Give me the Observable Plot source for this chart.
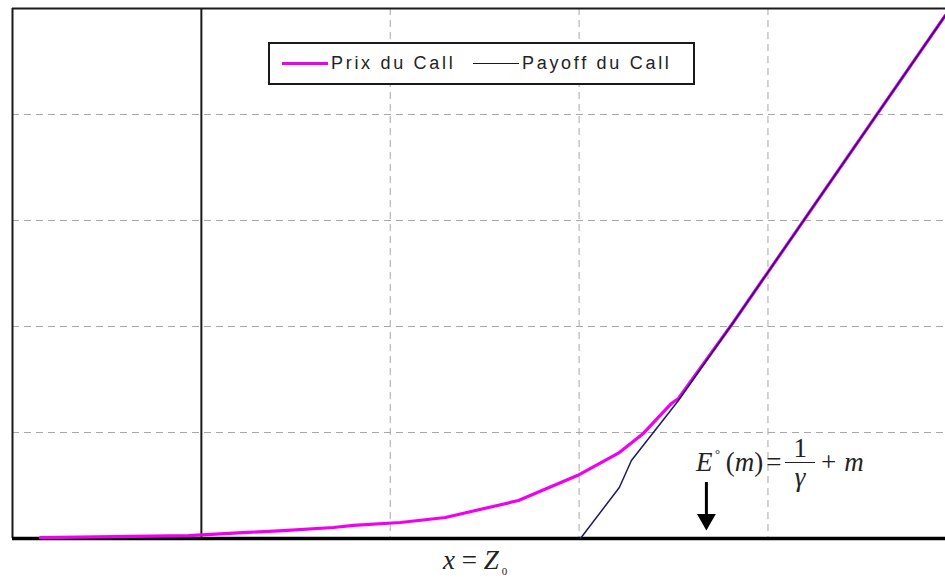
<!DOCTYPE html>
<html>
<head>
<meta charset="utf-8">
<script src="https://cdn.jsdelivr.net/npm/d3@7"></script>
<script src="https://cdn.jsdelivr.net/npm/@observablehq/plot@0.6"></script>
<style>
  html, body { margin: 0; padding: 0; background: #fff; overflow: hidden; }
  #wrap { position: relative; width: 945px; height: 584px; }
  #wrap svg { display: block; }
  .legend {
    position: absolute; left: 268px; top: 42px; width: 423px; height: 39px;
    border: 2px solid #1a1a1a; background: #fff; box-sizing: content-box;
    font-family: "Liberation Sans", Arial, sans-serif; font-size: 18px; color: #222;
  }
  .legend .item { position: absolute; top: 0; height: 39px; display: flex; align-items: center; }
  .legend .swatch { display: inline-block; width: 46px; margin-right: 3px; }
  .legend .label { letter-spacing: 2.7px; }
  .formula {
    position: absolute; left: 696px; top: 434px; display: flex; align-items: center;
    font-family: "Liberation Serif", "Times New Roman", serif; font-style: italic; font-size: 27px; color: #222;
  }
  .frac { display: inline-flex; flex-direction: column; align-items: center; margin: 0 6px 0 2px; font-style: normal; }
  .frac .num { border-bottom: 1.5px solid #222; padding: 0 8px; line-height: 28px; }
  .frac .den { font-style: italic; line-height: 28px; }
  .zlabel {
    position: absolute; left: 443px; top: 545px;
    font-family: "Liberation Serif", "Times New Roman", serif; font-style: italic; font-size: 27px; color: #222;
  }
  .zlabel sub { font-size: 11px; font-style: normal; margin-left: 3px; }
</style>
</head>
<body>
<div id="wrap"></div>
<script>
// ---- data ----
const gridX = [1, 2, 3];
const gridY = [1, 2, 3, 4];

const priceX = [-0.852, -0.068, 0.244, 0.434, 0.699, 0.805, 1.054, 1.292, 1.679, 1.991, 2.213, 2.340, 2.489, 2.526, 2.816, 3.939];
const priceY = [0.009, 0.028, 0.057, 0.075, 0.104, 0.123, 0.151, 0.198, 0.358, 0.594, 0.811, 0.991, 1.274, 1.321, 2.038, 4.934];

const payoffX = [2.007, 2.213, 2.277, 2.526, 2.816, 3.939];
const payoffY = [0.000, 0.481, 0.736, 1.302, 2.038, 4.934];

const eStarX = 2.674;          // position of E°(m) on the axis
const arrowShaft = [0.528, 0.226];
const arrowHeadY = 0.179;

const legendLabels = ["Prix du Call", "Payoff du Call"];
const seriesColors = ["#f000f0", "#1c1a66"];

// ---- build ----
const price = priceX.map((x, i) => ({x, y: priceY[i]}));
const payoff = payoffX.map((x, i) => ({x, y: payoffY[i]}));

const chart = Plot.plot({
  width: 945,
  height: 584,
  marginLeft: 12,
  marginRight: 0,
  marginTop: 8,
  marginBottom: 46,
  x: {domain: [-1, 3.94], axis: null},
  y: {domain: [0, 5], axis: null},
  marks: [
    Plot.ruleY(gridY, {stroke: "#a8a8a8", strokeWidth: 1, strokeDasharray: "7,5"}),
    Plot.ruleX(gridX, {stroke: "#a8a8a8", strokeWidth: 1, strokeDasharray: "7,5"}),
    Plot.ruleX([-1], {stroke: "#1a1a1a", strokeWidth: 2}),
    Plot.ruleY([5], {stroke: "#1a1a1a", strokeWidth: 2}),
    Plot.ruleX([0], {stroke: "#1a1a1a", strokeWidth: 2}),
    Plot.ruleY([0], {stroke: "#000", strokeWidth: 3.5}),
    Plot.line(price, {x: "x", y: "y", stroke: seriesColors[0], strokeWidth: 3.2, strokeLinejoin: "round"}),
    Plot.line(payoff, {x: "x", y: "y", stroke: seriesColors[1], strokeWidth: 1.5}),
    Plot.ruleX([eStarX], {y1: arrowShaft[0], y2: arrowShaft[1], stroke: "#000", strokeWidth: 3}),
    Plot.dot([eStarX], {x: d => d, y: arrowHeadY, symbol: "triangle", rotate: 180, r: 7, fill: "#000", stroke: "none"})
  ]
});

const wrap = document.getElementById("wrap");
wrap.appendChild(chart);

// legend (inside plot area)
const legend = document.createElement("div");
legend.className = "legend";
const itemLefts = [12, 203];
legendLabels.forEach((lab, i) => {
  const it = document.createElement("div");
  it.className = "item";
  it.style.left = itemLefts[i] + "px";
  const sw = document.createElement("span");
  sw.className = "swatch";
  sw.style.borderTop = (i === 0 ? 3.5 : 1.5) + "px solid " + (i === 0 ? seriesColors[0] : "#1a1a1a");
  const tx = document.createElement("span");
  tx.className = "label";
  tx.textContent = lab;
  it.appendChild(sw);
  it.appendChild(tx);
  legend.appendChild(it);
});
wrap.appendChild(legend);

// formula annotation
const f = document.createElement("div");
f.className = "formula";
f.innerHTML = '<span>E</span><span style="font-size:13px;position:relative;top:-9px;margin:0 6px 0 2px">°</span><span style="font-style:normal">(</span><span>m</span><span style="font-style:normal">)</span><span style="font-style:normal;margin:0 2px 0 3px">=</span><span class="frac"><span class="num">1</span><span class="den">γ</span></span><span style="font-style:normal;margin-right:8px">+</span><span>m</span>';
wrap.appendChild(f);

// x = Z0 label
const z = document.createElement("div");
z.className = "zlabel";
z.innerHTML = 'x <span style="font-style:normal">=</span> Z<sub>0</sub>';
wrap.appendChild(z);
</script>
</body>
</html>
